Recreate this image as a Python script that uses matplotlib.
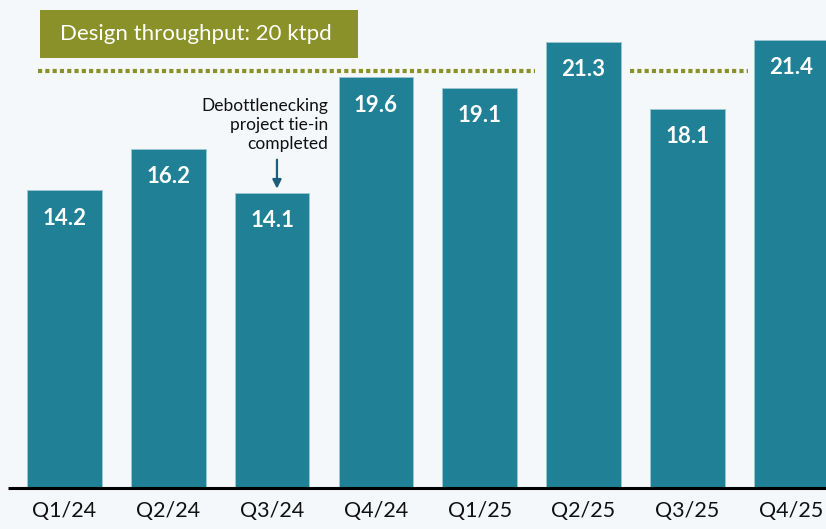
import matplotlib.pyplot as plt
from matplotlib.patches import Rectangle
import numpy as np

quarters = ['Q1/24', 'Q2/24', 'Q3/24', 'Q4/24', 'Q1/25', 'Q2/25', 'Q3/25', 'Q4/25']
throughput = [14.2, 16.2, 14.1, 19.6, 19.1, 21.3, 18.1, 21.4]
design = 20
design_label = 'Design throughput: 20 ktpd'
note = 'Debottlenecking\nproject tie-in\ncompleted'

bg = '#f5f8fa'
bar_color = '#1f8096'
olive = '#8a9128'

plt.rcParams['font.family'] = ['Lato', 'DejaVu Sans']

fig = plt.figure(figsize=(8.26, 5.29), dpi=100, facecolor=bg)
ax = fig.add_axes([0, 0, 1, 1])
ax.set_facecolor(bg)
ax.set_xlim(-0.621, 7.336)
ax.set_ylim(-1.96, 23.29)
ax.axis('off')

x = np.arange(len(quarters))
ax.bar(x, throughput, width=0.72, color=bar_color, edgecolor='#9cc7d3', linewidth=0.6, zorder=3)

for xi, v in zip(x, throughput):
    ax.text(xi, v - 1.34, f'{v:.1f}', ha='center', va='center', color='white',
            fontsize=16, fontweight='bold', zorder=4)

for xi, q in zip(x, quarters):
    ax.text(xi, -1.12, q, ha='center', va='center', fontsize=15.5, color='#111111')

# baseline
ax.hlines(0, -0.544, 7.4, color='black', linewidth=2.2, zorder=5)

# design throughput dotted line (breaks around tall bars)
for x0, x1 in [(-0.255, 4.53), (5.45, 6.58)]:
    ax.plot([x0, x1], [design - 0.1, design - 0.1], color=olive, linewidth=3,
            linestyle=(0, (1, 0.75)), zorder=2)

ax.add_patch(Rectangle((-0.236, 20.53), 3.064, 2.29, facecolor=olive, edgecolor='none', zorder=2))
ax.text(-0.044, 21.67, design_label, ha='left', va='center', color='white', fontsize=16, zorder=3)

ax.text(2.537, 17.33, note, ha='right', va='center', fontsize=12.5, color='#111111',
        linespacing=1.25)
ax.annotate('', xy=(2.047, 14.15), xytext=(2.047, 15.8),
            arrowprops=dict(arrowstyle='-|>', color='#1d5f7a', lw=1.6, mutation_scale=13),
            zorder=6)

fig.savefig('out.png', dpi=100, facecolor=bg)
